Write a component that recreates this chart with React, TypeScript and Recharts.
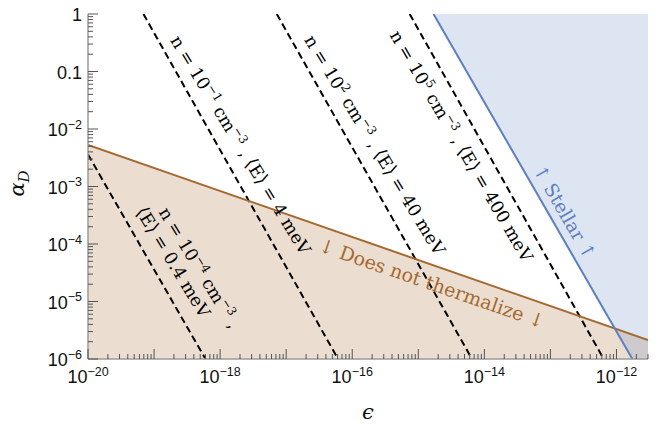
import React from 'react';
import { ComposedChart, Line, Area, XAxis, YAxis, ReferenceDot, Label } from 'recharts';

// ---------- axis ranges & tick labels ----------
const epsDomain: [number, number] = [1e-20, 3e-12];
const alphaDomain: [number, number] = [1e-6, 1];
const xDecades = [-20, -19, -18, -17, -16, -15, -14, -13, -12];
const yDecades = [-6, -5, -4, -3, -2, -1, 0];
const xLabelExponents = [-20, -18, -16, -14, -12];
const yLabelExponents = [0, -1, -2, -3, -4, -5, -6];
const yLabelTexts = ['1', '0.1', '10', '10', '10', '10', '10'];
const ySupTexts = ['', '', '−2', '−3', '−4', '−5', '−6'];

// ---------- "Does not thermalize" boundary ----------
const thermalEps = [1e-20, 3e-12];
const thermalAlpha = [5.27e-3, 2.14e-6];

// ---------- Stellar boundary ----------
const stellarEps = [1.7e-15, 1.74e-12];
const stellarAlpha = [1, 1e-6];
const stellarRegionEps = [1.7e-15, 1.74e-12, 3e-12];
const stellarRegionLow = [1, 1e-6, 1e-6];

// ---------- density contours ----------
const densityExponents = ['−4', '−1', '2', '5'];
const energyLabels = ['0.4', '4', '40', '400'];
const densityEpsStart = [1e-20, 6.9e-20, 7.2e-18, 7.4e-16];
const densityAlphaStart = [3.6e-3, 1, 1, 1];
const densityEpsEnd = [6.0e-19, 6.1e-17, 6.5e-15, 6.4e-13];
const densityAlphaEnd = [1e-6, 1e-6, 1e-6, 1e-6];

// label anchor positions (data coords)
const densityLabelEps = [5.1e-19, 2.05e-18, 2.2e-16, 4.5e-15];
const densityLabelAlpha = [3.53e-5, 5.27e-3, 5.27e-3, 5.06e-3];
const densityLabelAngle = [58.7, 58.7, 58.7, 59.6];
const energyLabel0Eps = 1.95e-19;
const energyLabel0Alpha = 4.86e-5;
const thermalLabelEps = 1.6e-15;
const thermalLabelAlpha = 2.06e-5;
const stellarLabelEps = 1.64e-13;
const stellarLabelAlpha = 3.6e-4;

// ---------- styles ----------
const BROWN = '#a5692f';
const BLUE = '#5b7fc0';
const FRAME = '#9a9a9a';
const TICK = '#555555';
const SANS = '"Liberation Sans", Arial, sans-serif';
const SERIF = '"DejaVu Serif", "Liberation Serif", serif';
const STELLAR_ANGLE = 60;
const THERM_ANGLE = 19.1;
const DENS_SIZE = 17.5;
const THERM_SIZE = 19;
const STELLAR_SIZE = 18.5;

const W = 660;
const H = 424;

// ---------- derived ----------
const buildTicks = (decades: number[], lo: number, hi: number) => {
  const out: number[] = [];
  decades.forEach((d) => {
    for (let k = 1; k <= 9; k++) {
      const v = k * Math.pow(10, d);
      if (v >= lo * 0.999999 && v <= hi * 1.000001) out.push(v);
    }
  });
  return out;
};
const xTicks = buildTicks(xDecades, epsDomain[0], epsDomain[1]);
const yTicks = buildTicks(yDecades, alphaDomain[0], alphaDomain[1]);

const isMajor = (v: number) => {
  const l = Math.log10(v);
  return Math.abs(l - Math.round(l)) < 1e-6;
};

const thermalLine = thermalEps.map((x, i) => ({ x, y: thermalAlpha[i] }));
const thermalRegion = thermalEps.map((x, i) => ({ x, r: [alphaDomain[0], thermalAlpha[i]] }));
const stellarLine = stellarEps.map((x, i) => ({ x, y: stellarAlpha[i] }));
const stellarRegion = stellarRegionEps.map((x, i) => ({ x, r: [stellarRegionLow[i], alphaDomain[1]] }));
const densityLines = densityEpsStart.map((x0, i) => [
  { x: x0, y: densityAlphaStart[i] },
  { x: densityEpsEnd[i], y: densityAlphaEnd[i] },
]);

const MAJOR_LEN = 10;
const MINOR_LEN = 5;

const BottomTick = (p: any) => {
  const { x, y, payload } = p;
  const v = payload.value;
  const major = isMajor(v);
  const e = Math.round(Math.log10(v));
  const show = major && xLabelExponents.includes(e);
  return (
    <g>
      <line x1={x} x2={x} y1={y} y2={y - (major ? MAJOR_LEN : MINOR_LEN)} stroke={TICK} strokeWidth={1} />
      {show && (
        <text x={x} y={y + 24} textAnchor="middle" fontFamily={SANS} fontSize={18} fill="#111">
          <tspan>10</tspan>
          <tspan dy={-7.5} fontSize={12.5}>{'−' + Math.abs(e)}</tspan>
        </text>
      )}
    </g>
  );
};

const TopTick = (p: any) => {
  const { x, y, payload } = p;
  const major = isMajor(payload.value);
  return <line x1={x} x2={x} y1={y} y2={y + (major ? MAJOR_LEN : MINOR_LEN)} stroke={TICK} strokeWidth={1} />;
};

const LeftTick = (p: any) => {
  const { x, y, payload } = p;
  const v = payload.value;
  const major = isMajor(v);
  const e = Math.round(Math.log10(v));
  const idx = major ? yLabelExponents.indexOf(e) : -1;
  return (
    <g>
      <line x1={x} x2={x + (major ? MAJOR_LEN : MINOR_LEN)} y1={y} y2={y} stroke={TICK} strokeWidth={1} />
      {idx >= 0 && (
        <text x={x - 6} y={y + 7} textAnchor="end" fontFamily={SANS} fontSize={18} fill="#111">
          <tspan>{yLabelTexts[idx]}</tspan>
          {ySupTexts[idx] && (
            <tspan dy={-7.5} fontSize={12.5}>{ySupTexts[idx]}</tspan>
          )}
        </text>
      )}
    </g>
  );
};

const RightTick = (p: any) => {
  const { x, y, payload } = p;
  const major = isMajor(payload.value);
  return <line x1={x} x2={x - (major ? MAJOR_LEN : MINOR_LEN)} y1={y} y2={y} stroke={TICK} strokeWidth={1} />;
};

const rotText = (angle: number, color: string, size: number, content: React.ReactNode) => (props: any) => {
  const { cx, cy } = props;
  return (
    <text
      x={cx}
      y={cy + size * 0.35}
      transform={`rotate(${angle} ${cx} ${cy})`}
      textAnchor="middle"
      fontFamily={SERIF}
      fontSize={size}
      fill={color}
      style={{ whiteSpace: 'pre' }}
    >
      {content}
    </text>
  );
};

const SUP = 12;
const SUP_DY = 7;

const Bracketed = ({ children }: { children: React.ReactNode }) => (
  <>
    <tspan fontFamily='"DejaVu Sans", sans-serif' fontSize={DENS_SIZE * 1.05}>⟨</tspan>
    <tspan>{children}</tspan>
    <tspan fontFamily='"DejaVu Sans", sans-serif' fontSize={DENS_SIZE * 1.05}>⟩</tspan>
  </>
);

const densityContent = (i: number, withEnergy: boolean) => (
  <>
    <tspan>n = 10</tspan>
    <tspan dy={-SUP_DY} fontSize={SUP}>{densityExponents[i]}</tspan>
    <tspan dy={SUP_DY}> cm</tspan>
    <tspan dy={-SUP_DY} fontSize={SUP}>−3</tspan>
    <tspan dy={SUP_DY}>{' , '}</tspan>
    {withEnergy && (
      <>
        <Bracketed>E</Bracketed>
        <tspan>{` = ${energyLabels[i]} meV`}</tspan>
      </>
    )}
  </>
);

const YLabel = (props: any) => {
  const vb = props.viewBox || { x: 0, y: 0, width: 0, height: 0 };
  const cx = vb.x + 24;
  const cy = vb.y + vb.height / 2 - 3;
  return (
    <text x={cx} y={cy} transform={`rotate(-90 ${cx} ${cy})`} textAnchor="middle" fontFamily={SERIF} fontStyle="italic" fontSize={21} fill="#111">
      <tspan>α</tspan>
      <tspan dy={5} fontSize={15}>D</tspan>
    </text>
  );
};

const XLabel = (props: any) => {
  const vb = props.viewBox || { x: 0, y: 0, width: 0, height: 0 };
  return (
    <text x={vb.x + vb.width / 2} y={vb.y + 60} textAnchor="middle" fontFamily={SERIF} fontStyle="italic" fontSize={21} fill="#111">
      ϵ
    </text>
  );
};

export default function App() {
  return (
    <div style={{ position: 'absolute', left: 0, top: 0, width: W, height: H, background: '#fff' }}>
      <ComposedChart width={W} height={H} margin={{ top: 14, right: 12, left: 0, bottom: 0 }}>
        <XAxis
          xAxisId={0}
          dataKey="x"
          type="number"
          scale="log"
          domain={epsDomain}
          allowDataOverflow
          ticks={xTicks}
          interval={0}
          tickSize={0}
          tickMargin={0}
          tickLine={false}
          height={65}
          axisLine={{ stroke: FRAME, strokeWidth: 1.5 }}
          tick={<BottomTick />}
          label={<Label content={<XLabel />} />}
        />
        <XAxis
          xAxisId="top"
          orientation="top"
          dataKey="x"
          type="number"
          scale="log"
          domain={epsDomain}
          allowDataOverflow
          ticks={xTicks}
          interval={0}
          tickSize={0}
          tickMargin={0}
          tickLine={false}
          height={0}
          axisLine={{ stroke: FRAME, strokeWidth: 1.5 }}
          tick={<TopTick />}
        />
        <YAxis
          yAxisId={0}
          type="number"
          scale="log"
          domain={alphaDomain}
          allowDataOverflow
          ticks={yTicks}
          interval={0}
          tickSize={0}
          tickMargin={0}
          tickLine={false}
          width={88}
          axisLine={{ stroke: FRAME, strokeWidth: 1.5 }}
          tick={<LeftTick />}
          label={<Label content={<YLabel />} />}
        />
        <YAxis
          yAxisId="right"
          orientation="right"
          type="number"
          scale="log"
          domain={alphaDomain}
          allowDataOverflow
          ticks={yTicks}
          interval={0}
          tickSize={0}
          tickMargin={0}
          tickLine={false}
          width={0}
          axisLine={{ stroke: FRAME, strokeWidth: 1.5 }}
          tick={<RightTick />}
        />

        <Area data={thermalRegion} dataKey="r" type="linear" fill={BROWN} fillOpacity={0.22} stroke="none" isAnimationActive={false} />
        <Area data={stellarRegion} dataKey="r" type="linear" fill={BLUE} fillOpacity={0.2} stroke="none" isAnimationActive={false} />

        {densityLines.map((d, i) => (
          <Line key={i} data={d} dataKey="y" type="linear" stroke="#000" strokeWidth={2} strokeDasharray="7 4" dot={false} activeDot={false} isAnimationActive={false} />
        ))}
        <Line data={thermalLine} dataKey="y" type="linear" stroke={BROWN} strokeWidth={2} dot={false} activeDot={false} isAnimationActive={false} />
        <Line data={stellarLine} dataKey="y" type="linear" stroke={BLUE} strokeWidth={2} dot={false} activeDot={false} isAnimationActive={false} />

        {densityLabelEps.map((x, i) => (
          <ReferenceDot key={'dl' + i} x={x} y={densityLabelAlpha[i]} r={0} shape={rotText(densityLabelAngle[i], '#000', DENS_SIZE, densityContent(i, i !== 0))} />
        ))}
        <ReferenceDot
          x={energyLabel0Eps}
          y={energyLabel0Alpha}
          r={0}
          shape={rotText(densityLabelAngle[0], '#000', DENS_SIZE, <><Bracketed>E</Bracketed><tspan>{` = ${energyLabels[0]} meV`}</tspan></>)}
        />
        <ReferenceDot x={thermalLabelEps} y={thermalLabelAlpha} r={0} shape={rotText(THERM_ANGLE, BROWN, THERM_SIZE, <tspan>↓ Does not thermalize ↓</tspan>)} />
        <ReferenceDot x={stellarLabelEps} y={stellarLabelAlpha} r={0} shape={rotText(STELLAR_ANGLE, BLUE, STELLAR_SIZE, <tspan>↑ Stellar ↑</tspan>)} />
      </ComposedChart>
    </div>
  );
}
